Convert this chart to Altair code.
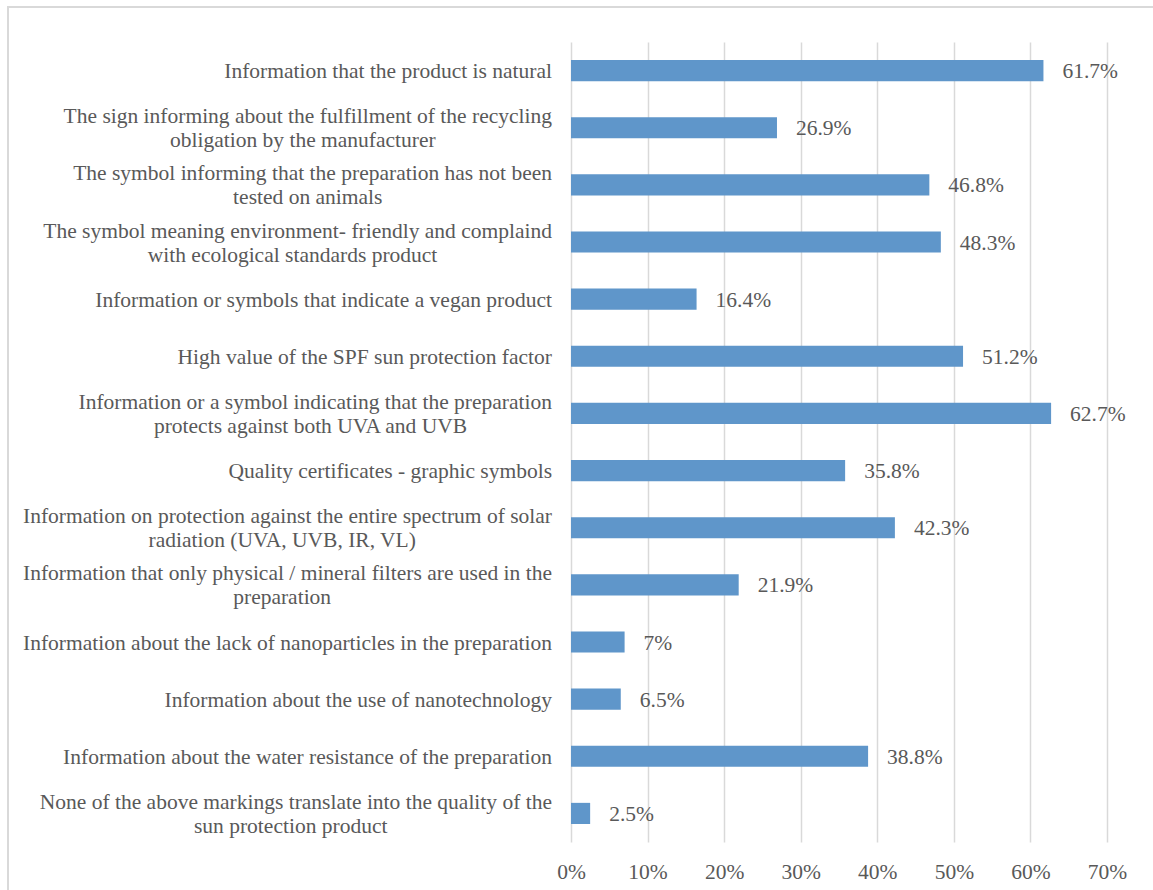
import altair as alt
import pandas as pd

labels = [
    ["Information that the product is natural"],
    ["The sign informing about the fulfillment of the recycling", "obligation by the manufacturer"],
    ["The symbol informing that the preparation has not been", "tested on animals"],
    ["The symbol meaning environment- friendly and complaind", "with ecological standards product"],
    ["Information or symbols that indicate a vegan product"],
    ["High value of the SPF sun protection factor"],
    ["Information or a symbol indicating that the preparation", "protects against both UVA and UVB"],
    ["Quality certificates - graphic symbols"],
    ["Information on protection against the entire spectrum of solar", "radiation (UVA, UVB, IR, VL)"],
    ["Information that only physical / mineral filters are used in the", "preparation"],
    ["Information about the lack of nanoparticles in the preparation"],
    ["Information about the use of nanotechnology"],
    ["Information about the water resistance of the preparation"],
    ["None of the above markings translate into the quality of the", "sun protection product"],
]
values = [61.7, 26.9, 46.8, 48.3, 16.4, 51.2, 62.7, 35.8, 42.3, 21.9, 7.0, 6.5, 38.8, 2.5]
value_text = ["61.7%", "26.9%", "46.8%", "48.3%", "16.4%", "51.2%", "62.7%",
              "35.8%", "42.3%", "21.9%", "7%", "6.5%", "38.8%", "2.5%"]

FONT = "Liberation Serif"
FS = 21.5
TXT = "#595959"
LABEL_GAP = 19

# Approximate Times / Liberation Serif advance widths (1/1000 em), used only to centre
# the second line of a two-line category label under its first line.
W = {' ': 250, 'a': 444, 'b': 500, 'c': 444, 'd': 500, 'e': 444, 'f': 333, 'g': 500, 'h': 500,
     'i': 278, 'j': 278, 'k': 500, 'l': 278, 'm': 778, 'n': 500, 'o': 500, 'p': 500, 'q': 500,
     'r': 333, 's': 389, 't': 278, 'u': 500, 'v': 500, 'w': 722, 'x': 500, 'y': 500, 'z': 444,
     'A': 722, 'B': 667, 'C': 667, 'D': 722, 'E': 611, 'F': 556, 'G': 722, 'H': 722, 'I': 333,
     'J': 389, 'K': 722, 'L': 611, 'M': 889, 'N': 722, 'O': 722, 'P': 556, 'Q': 722, 'R': 667,
     'S': 556, 'T': 611, 'U': 722, 'V': 722, 'W': 944, 'X': 722, 'Y': 722, 'Z': 611,
     '-': 333, '/': 278, '(': 333, ')': 333, ',': 250, '.': 250}


def text_px(s):
    return sum(W.get(ch, 500) for ch in s) / 1000 * FS * 1.02


keys = [" ".join(l) for l in labels]
df = pd.DataFrame({
    "key": keys,
    "line1": [l[0] for l in labels],
    "line2": [l[1] if len(l) > 1 else "" for l in labels],
    "nlines": [len(l) for l in labels],
    "off": [-text_px(l[0]) / 2 for l in labels],
    "value": [v / 100 for v in values],
    "vtext": value_text,
})

y_enc = alt.Y("key:N", sort=keys, axis=None,
              scale=alt.Scale(paddingInner=0.63, paddingOuter=0.315))

base = alt.Chart(df)

bars = base.mark_bar(color="#5F96CA").encode(
    y=y_enc,
    x=alt.X("value:Q", scale=alt.Scale(domain=[0, 0.7], nice=False),
            axis=alt.Axis(values=[0, 0.1, 0.2, 0.3, 0.4, 0.5, 0.6, 0.7], format=".0%",
                          grid=True, gridColor="#d9d9d9", gridWidth=1.5,
                          domain=False, ticks=False, labelPadding=19, labelFlush=False,
                          labelFont=FONT, labelFontSize=FS, labelColor=TXT, title=None)),
)

vals = base.mark_text(align="left", baseline="middle", dx=19, dy=1.5, font=FONT, fontSize=FS,
                      color=TXT).encode(
    y=y_enc, x="value:Q", text="vtext:N")

single = base.transform_filter("datum.nlines == 1").mark_text(
    align="right", baseline="middle", dy=1.5, font=FONT, fontSize=FS, color=TXT).encode(
    y=y_enc, x=alt.value(-LABEL_GAP), text="line1:N")

first = base.transform_filter("datum.nlines == 2").mark_text(
    align="right", baseline="middle", dy=-10.5, font=FONT, fontSize=FS, color=TXT).encode(
    y=y_enc, x=alt.value(-LABEL_GAP), text="line1:N")

second = base.transform_filter("datum.nlines == 2").mark_text(
    align="center", baseline="middle", dy=13.5, font=FONT, fontSize=FS, color=TXT).encode(
    y=y_enc, x=alt.value(-LABEL_GAP), xOffset=alt.XOffset("off:Q", scale=None),
    text="line2:N")

frame = alt.Chart(alt.Data(values=[{"a": 1}])).mark_rect(
    fill="transparent", stroke="#d9d9d9", strokeWidth=2).encode(
    x=alt.value(-563), x2=alt.value(700), y=alt.value(-35), y2=alt.value(900))

chart = alt.layer(frame, bars, vals, single, first, second).properties(
    width=536, height=800,
    autosize=alt.AutoSizeParams(type="none"),
    padding={"left": 571, "top": 42, "right": 46, "bottom": 48},
).configure_view(stroke=None)

chart.save("out.html", embed_options={"renderer": "svg", "actions": False})
